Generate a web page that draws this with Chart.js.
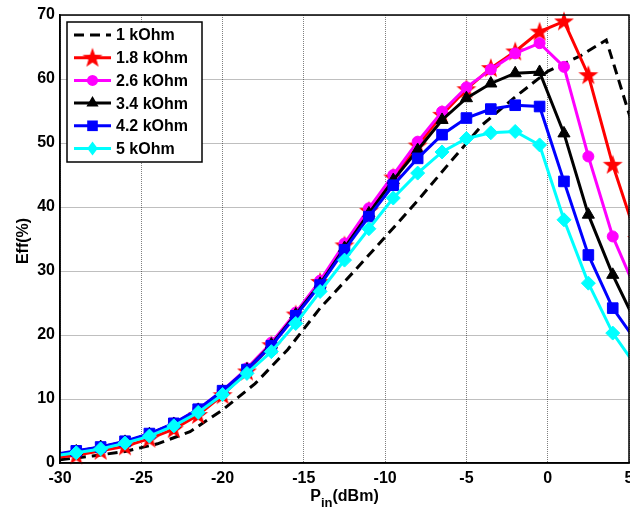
<!DOCTYPE html>
<html>
<head>
<meta charset="utf-8">
<script src="https://cdn.jsdelivr.net/npm/chart.js@4"></script>
<style>
  html, body { margin: 0; padding: 0; background: #fff; overflow: hidden; }
  /* a bit wider than the window so the last x label is cut at the edge */
  #wrap { width: 640px; height: 513px; position: relative; }
</style>
</head>
<body>
<div id="wrap"><canvas id="effChart"></canvas></div>
<script>
// input power grid of the markered curves (dBm)
const pinGrid = [-30.5, -29, -27.5, -26, -24.5, -23, -21.5, -20, -18.5, -17, -15.5, -14,
  -12.5, -11, -9.5, -8, -6.5, -5, -3.5, -2, -0.5, 1, 2.5, 4, 5.5];
// the 1 kOhm curve has no markers, read on its own points
const pinDashed = [-30, -28, -26, -24, -22, -20, -18, -16, -14, -12, -10, -8, -6, -4, -2, 0, 2, 3.6, 5.5];
const eff1k = [0.5, 1.1, 1.8, 3.0, 4.9, 8.3, 12.4, 17.7, 24.2, 29.7, 35.3, 41.0, 47.0, 52.9, 57.2, 61.2, 63.6, 66.1, 50.5];

const eff18k = [0.8, 1.2, 1.9, 2.6, 3.8, 5.3, 7.5, 10.6, 14.3, 18.4, 23.2, 28.3,
  34.0, 39.4, 44.6, 49.6, 54.4, 58.4, 61.7, 64.3, 67.4, 69.0, 60.6, 46.6, 35.0];
const eff26k = [1.1, 1.7, 2.4, 3.3, 4.5, 6.2, 8.4, 11.3, 14.8, 18.8, 23.5, 28.5,
  34.3, 39.8, 45.0, 50.2, 54.9, 58.7, 61.5, 64.0, 65.6, 61.9, 47.9, 35.4, 26.6];
const eff34k = [1.2, 1.8, 2.5, 3.3, 4.5, 6.1, 8.3, 11.2, 14.6, 18.5, 23.2, 28.0,
  33.6, 39.0, 44.2, 48.9, 53.6, 57.0, 59.3, 60.9, 61.1, 51.5, 38.8, 29.4, 21.5];
const eff42k = [1.3, 1.9, 2.5, 3.4, 4.6, 6.2, 8.4, 11.3, 14.6, 18.3, 23.0, 27.8,
  33.3, 38.5, 43.4, 47.6, 51.3, 53.9, 55.3, 55.9, 55.7, 44.0, 32.5, 24.2, 18.8];
const eff5k = [1.1, 1.6, 2.2, 3.1, 4.2, 5.8, 7.9, 10.7, 14.0, 17.4, 21.8, 26.8,
  31.7, 36.6, 41.4, 45.3, 48.6, 50.7, 51.6, 51.8, 49.7, 38.0, 28.1, 20.3, 14.9];

const seriesLabels = ["1 kOhm", "1.8 kOhm", "2.6 kOhm", "3.4 kOhm", "4.2 kOhm", "5 kOhm"];
const xTicks = [-30, -25, -20, -15, -10, -5, 0, 5];
const yTicks = [0, 10, 20, 30, 40, 50, 60, 70];

const FONT = "'Liberation Sans', Arial, Helvetica, sans-serif";

// filled five point star like the matlab pentagram
function makeStar(color) {
  const c = document.createElement("canvas");
  c.width = 22; c.height = 22;
  const g = c.getContext("2d");
  g.fillStyle = color;
  g.beginPath();
  for (let i = 0; i < 10; i++) {
    const r = i % 2 ? 4.2 : 10.5;
    const a = -Math.PI / 2 + i * Math.PI / 5;
    g.lineTo(11 + r * Math.cos(a), 11.5 + r * Math.sin(a));
  }
  g.closePath();
  g.fill();
  return c;
}
const starImg = makeStar("#ff0000");

function pts(xs, ys) {
  return xs.map((x, i) => ({ x: x, y: ys[i] }));
}

const styles = [
  { color: "#000000", dash: [10, 6], point: false, radius: 0, order: 5 },
  { color: "#ff0000", point: starImg, radius: 10, order: 4 },
  { color: "#ff00ff", point: "circle", radius: 5.5, order: 3 },
  { color: "#000000", point: "triangle", radius: 7, order: 2 },
  { color: "#0000ff", point: "rect", radius: 7.5, order: 1 },
  { color: "#00ffff", point: "rectRot", radius: 7, order: 0 },
];
const values = [eff1k, eff18k, eff26k, eff34k, eff42k, eff5k];

const datasets = seriesLabels.map((label, i) => {
  const s = styles[i];
  return {
    label: label,
    data: i === 0 ? pts(pinDashed, values[i]) : pts(pinGrid, values[i]),
    borderColor: s.color,
    backgroundColor: s.color,
    borderWidth: 3,
    borderDash: s.dash || [],
    pointStyle: s.point,
    pointRadius: s.radius,
    pointBorderWidth: 1,
    pointHoverRadius: s.radius,
    tension: 0,
    order: s.order,
    clip: { left: 0, right: 0, top: 10, bottom: 10 },
  };
});

function drawMarker(ctx, s, x, y) {
  if (!s.point) return;
  if (s.point instanceof HTMLCanvasElement) {
    ctx.drawImage(s.point, x - s.point.width / 2, y - s.point.height / 2);
    return;
  }
  const r = s.radius;
  ctx.fillStyle = s.color;
  ctx.beginPath();
  if (s.point === "circle") {
    ctx.arc(x, y, r, 0, Math.PI * 2);
  } else if (s.point === "triangle") {
    ctx.moveTo(x, y - r);
    ctx.lineTo(x + r * 0.87, y + r * 0.5);
    ctx.lineTo(x - r * 0.87, y + r * 0.5);
  } else if (s.point === "rect") {
    const h = r * Math.SQRT1_2;
    ctx.rect(x - h, y - h, 2 * h, 2 * h);
  } else if (s.point === "rectRot") {
    ctx.moveTo(x, y - r);
    ctx.lineTo(x + r * 0.75, y);
    ctx.lineTo(x, y + r);
    ctx.lineTo(x - r * 0.75, y);
  }
  ctx.closePath();
  ctx.fill();
}

const framePlugin = {
  id: "frame",
  afterDraw(chart) {
    const ctx = chart.ctx;
    const a = chart.chartArea;
    ctx.save();
    // axes box
    ctx.strokeStyle = "#000";
    ctx.lineWidth = 1.5;
    ctx.strokeRect(a.left, a.top, a.right - a.left, a.bottom - a.top);

    // legend box in the upper left corner
    const bx = 67, by = 22, bw = 135, bh = 140;
    ctx.fillStyle = "#fff";
    ctx.fillRect(bx, by, bw, bh);
    ctx.strokeRect(bx, by, bw, bh);
    ctx.font = "bold 16px " + FONT;
    ctx.textBaseline = "middle";
    seriesLabels.forEach((label, i) => {
      const s = styles[i];
      const y = by + 13 + i * 22.7;
      ctx.strokeStyle = s.color;
      ctx.lineWidth = 3;
      ctx.setLineDash(s.dash || []);
      ctx.beginPath();
      ctx.moveTo(74, y);
      ctx.lineTo(111, y);
      ctx.stroke();
      ctx.setLineDash([]);
      drawMarker(ctx, s, 92.5, y);
      ctx.fillStyle = "#000";
      ctx.textAlign = "left";
      ctx.fillText(label, 116, y + 1);
    });

    // axis titles
    ctx.fillStyle = "#000";
    ctx.save();
    ctx.translate(24, (a.top + a.bottom) / 2 + 2);
    ctx.rotate(-Math.PI / 2);
    ctx.textAlign = "center";
    ctx.textBaseline = "middle";
    ctx.font = "bold 16px " + FONT;
    ctx.fillText("Eff(%)", 0, 0);
    ctx.restore();

    const cx = (a.left + a.right) / 2;
    ctx.textBaseline = "alphabetic";
    ctx.textAlign = "left";
    ctx.font = "bold 16px " + FONT;
    const wP = ctx.measureText("P").width;
    const wRest = ctx.measureText("(dBm)").width;
    ctx.font = "bold 13px " + FONT;
    const wIn = ctx.measureText("in").width;
    let x = cx - (wP + wIn + wRest) / 2;
    const base = 501;
    ctx.font = "bold 16px " + FONT;
    ctx.fillText("P", x, base);
    x += wP;
    ctx.font = "bold 13px " + FONT;
    ctx.fillText("in", x, base + 6);
    x += wIn;
    ctx.font = "bold 16px " + FONT;
    ctx.fillText("(dBm)", x, base);
    ctx.restore();
  },
};

new Chart(document.getElementById("effChart"), {
  type: "line",
  data: { datasets: datasets },
  options: {
    responsive: true,
    maintainAspectRatio: false,
    animation: false,
    layout: { padding: { top: 15, right: 0, left: 0, bottom: 0 } },
    plugins: {
      legend: { display: false },
      tooltip: { enabled: false },
    },
    scales: {
      x: {
        type: "linear",
        min: -30,
        max: 5,
        afterBuildTicks: (scale) => {
          scale.ticks = xTicks.map((v) => ({ value: v }));
        },
        afterFit: (scale) => {
          scale.height = 50;
        },
        ticks: {
          color: "#000",
          padding: 6,
          maxRotation: 0,
          font: { family: FONT, size: 16, weight: "bold" },
        },
        grid: { color: "rgba(0,0,0,0.5)", lineWidth: 1, drawTicks: false },
        border: { display: true, color: "#000", width: 1.5, dash: [1, 1] },
      },
      y: {
        type: "linear",
        min: 0,
        max: 70,
        afterBuildTicks: (scale) => {
          scale.ticks = yTicks.map((v) => ({ value: v }));
        },
        afterFit: (scale) => {
          scale.width = 60;
        },
        ticks: {
          color: "#000",
          padding: 5,
          font: { family: FONT, size: 16, weight: "bold" },
        },
        grid: { color: "rgba(0,0,0,0.5)", lineWidth: 1, drawTicks: false },
        border: { display: true, color: "#000", width: 1.5, dash: [1, 1] },
      },
    },
  },
  plugins: [framePlugin],
});
</script>
</body>
</html>
